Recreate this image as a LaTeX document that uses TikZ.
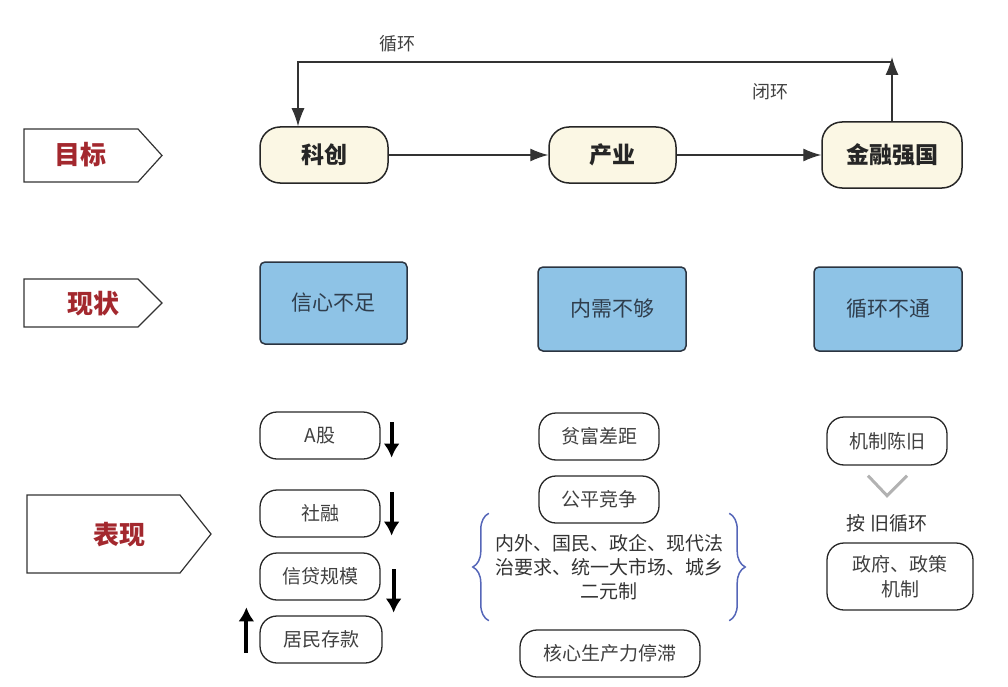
\documentclass[tikz,border=0pt]{standalone}
\usepackage{fontspec}
\setmainfont{Noto Sans CJK SC}
\usetikzlibrary{arrows.meta}
\usetikzlibrary{positioning}
\usetikzlibrary{calc}
\usetikzlibrary{decorations.pathreplacing}
\definecolor{cream}{HTML}{FBF7E4}
\definecolor{boxblue}{HTML}{8EC3E6}
\definecolor{boxline}{HTML}{2B3440}
\definecolor{boxtext}{HTML}{2F3D4C}
\definecolor{tagred}{HTML}{A3282E}
\definecolor{bracecol}{HTML}{5566B8}
\tikzset{
    goal/.style={draw=black!85, line width=1.5pt, fill=cream, rounded corners=20pt,
        minimum height=56pt, font=\bfseries\fontsize{23}{26}\selectfont, text=black!85},
    state/.style={draw=boxline, line width=1.5pt, fill=boxblue, rounded corners=5pt,
        minimum width=147pt, minimum height=82pt, font=\fontsize{21}{24}\selectfont, text=boxtext},
    item/.style={draw=black!85, line width=1.3pt, rounded corners=17pt,
        minimum width=120pt, minimum height=47pt, font=\fontsize{19}{22}\selectfont, text=black!75},
    tag/.style={draw=black!80, line width=1.2pt},
    tagtext/.style={font=\bfseries\fontsize{26}{28}\selectfont, text=tagred},
    flow/.style={->, draw=black!80, line width=1.2pt},
    trend/.style={-{Latex[length=14pt,width=16pt]}, line width=4pt},
    note/.style={font=\fontsize{18}{20}\selectfont, text=black!75},
    brace/.style={decorate, decoration={brace,amplitude=16pt}, draw=bracecol, line width=1.5pt},
}
\tikzset{>={Latex[length=18pt,width=13pt]}}
\begin{document}
\begin{tikzpicture}[x=1pt,y=-1pt]
\useasboundingbox (0,0) rectangle (1008,687);

% row tags
\draw [tag] (24,129)--(138,129)--(162,155.5)--(138,182)--(24,182)--cycle;
\node [tagtext] (mb) at (80,155) {目标};
\draw [tag] (24,279)--(138,279)--(162,303)--(138,327)--(24,327)--cycle;
\node [tagtext] (xz) at (93,304) {现状};
\draw [tag] (27,495)--(180,495)--(211,534)--(180,573)--(27,573)--cycle;
\node [tagtext] (bx) at (119,535) {表现};

% goals
\node [goal, minimum width=128pt] (kc) at (324,155) {科创};
\node [goal, minimum width=127pt] (cy) at (612.5,155) {产业};
\node [goal, minimum width=140pt, minimum height=66pt] (jr) at (892,155) {金融强国};
\draw [flow] (kc)--(cy);
\draw [flow] (cy)--(jr);
\draw [flow] (jr.north)--(jr.north |- 0,57);
\draw [flow] (jr.north |- 0,62) -| ([xshift=-26pt]kc.north);
\node [note] (xh) at (397,44) {循环};
\node [note] (bh) at (770,92) {闭环};

% states
\node [state] (xx) at (333.5,303) {信心不足};
\node [state, minimum width=148pt, minimum height=84pt] (nx) at (612,309) {内需不够};
\node [state, minimum width=148pt, minimum height=84pt] (xb) at (888,309) {循环不通};

% left column
\node [item] (ag) at (320,435.5) {A股};
\node [item] (sr) at (320,513.5) {社融};
\node [item] (xd) at (320,576.5) {信贷规模};
\node [item, minimum width=122pt] (jm) at (321,639.5) {居民存款};
\draw [trend] ($(ag.north east)+(11,11)$)--($(ag.south east)+(11,-2)$);
\draw [trend] ($(sr.north east)+(11,3)$)--($(sr.south east)+(11,-2)$);
\draw [trend] ($(xd.north east)+(13,17)$)--($(xd.south east)+(13,12)$);
\draw [trend] ($(jm.south west)+(-13,-11)$)--($(jm.north west)+(-13,-8)$);

% middle column
\node [align=center, minimum width=236pt, minimum height=107pt, inner sep=0pt,
    font=\fontsize{19}{24}\selectfont, text=black!80] (nw) at (609,567)
    {内外、国民、政企、现代法\\治要求、统一大市场、城乡\\二元制};
\draw [brace] ([xshift=-2pt]nw.south west)--([xshift=-2pt]nw.north west);
\draw [brace] ([xshift=2pt]nw.north east)--([xshift=2pt]nw.south east);
\node [item] (pf) at (599,436.5) {贫富差距};
\node [item] (gp) at (599,499.5) {公平竞争};
\node [item, minimum width=180pt] (hx) at (610,653.5) {核心生产力停滞};

% right column
\node [item, minimum height=48pt] (jz) at (887,441) {机制陈旧};
\draw [line width=3pt, draw=black!30] ($(jz.south)+(-19,10)$)--($(jz.south)+(0,30)$)--($(jz.south)+(20,10)$);
\node [note, text=black!80, font=\fontsize{19}{22}\selectfont] (aj) at (887,523) {按 旧循环};
\node [item, minimum width=146pt, minimum height=67pt, align=center, font=\fontsize{19}{25}\selectfont] (zf) at (900,576.5) {政府、政策\\机制};
\end{tikzpicture}
\end{document}
